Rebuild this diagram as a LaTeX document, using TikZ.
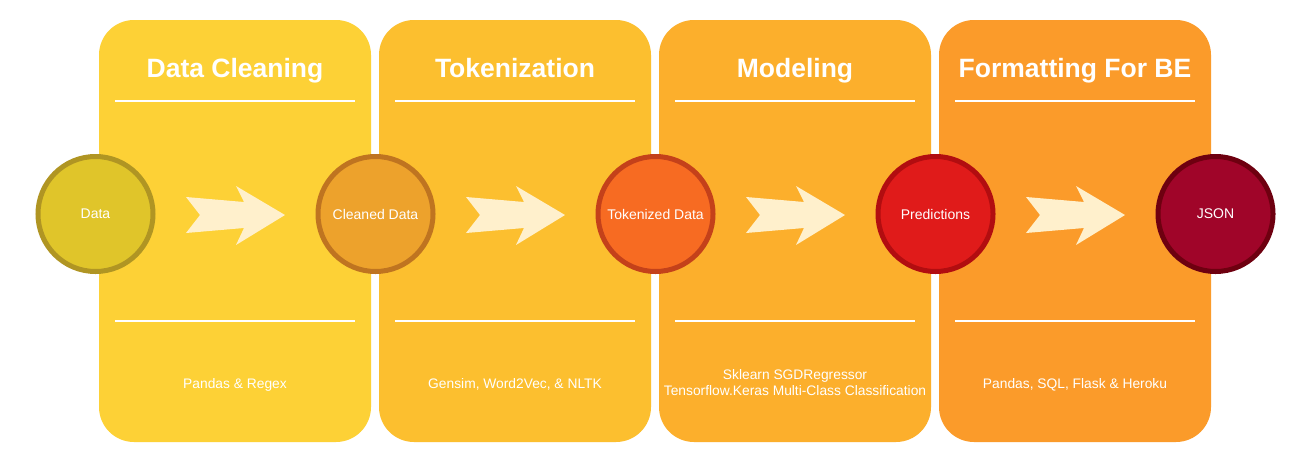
\documentclass[tikz,border=0pt]{standalone}
\usepackage{fontspec}
\setmainfont{Liberation Sans}
\begin{document}
\begin{tikzpicture}[x=1pt,y=-1pt,
  panel/.style={rounded corners=35pt, draw=none},
  sep/.style={draw=white, line width=2pt},
  titletext/.style={text=white, font=\fontsize{26.5}{30}\selectfont\bfseries, anchor=base, inner sep=0pt},
  tooltext/.style={text=white, font=\fontsize{13.8}{16}\selectfont, anchor=base, align=center, inner sep=0pt},
  stage/.style={circle, minimum size=115pt, line width=5pt, text=white, font=\fontsize{14}{16}\selectfont, inner sep=0pt},
  flowarrow/.style={fill=arrowfill, draw=none}
]
\definecolor{pA}{HTML}{FDD136}
\definecolor{pB}{HTML}{FCBF2F}
\definecolor{pC}{HTML}{FCAF2C}
\definecolor{pD}{HTML}{FB9B2A}
\definecolor{arrowfill}{HTML}{FFF0CC}
\definecolor{cAf}{HTML}{E0C52A}\definecolor{cAd}{HTML}{B09523}
\definecolor{cBf}{HTML}{EDA22C}\definecolor{cBd}{HTML}{BF7420}
\definecolor{cCf}{HTML}{F76B22}\definecolor{cCd}{HTML}{C4411A}
\definecolor{cDf}{HTML}{E01B1A}\definecolor{cDd}{HTML}{B20D10}
\definecolor{cEf}{HTML}{A00529}\definecolor{cEd}{HTML}{6E0010}
\useasboundingbox[fill=white] (0,0) rectangle (1316,469);

% panels
\foreach \i/\c/\t/\b/\y in {0/pA/{Data Cleaning}/{Pandas \& Regex}/388,
                         1/pB/{Tokenization}/{Gensim, Word2Vec, \& NLTK}/388,
                         2/pC/{Modeling}/{Sklearn SGDRegressor\\Tensorflow.Keras Multi-Class Classification}/395,
                         3/pD/{Formatting For BE}/{Pandas, SQL, Flask \& Heroku}/388}{
  \pgfmathsetmacro{\L}{99+280*\i}
  \fill[panel, fill=\c] (\L,20) rectangle ++(272,422);
  \node[titletext] (title\i) at (\L+136,77) {\t};
  \draw[sep] (\L+16,101) -- ++(240,0);
  \draw[sep] (\L+16,321) -- ++(240,0);
  \node[tooltext] (tool\i) at (\L+136,\y) {\b};
  % arrow
  \pgfmathsetmacro{\A}{\L+87}
  \fill[flowarrow] (\A,197) -- (\A+58,202) -- (\A+50,186) -- (\A+99,215) -- (\A+50,245) -- (\A+58,228) -- (\A,233) -- (\A+14,215) -- cycle;
}

% stages
\node[stage, fill=cAf, draw=cAd] (s0) at (95.5,214) {Data};
\node[stage, fill=cBf, draw=cBd] (s1) at (375.5,214) {Cleaned Data};
\node[stage, fill=cCf, draw=cCd] (s2) at (655.5,214) {Tokenized Data};
\node[stage, fill=cDf, draw=cDd] (s3) at (935.5,214) {Predictions};
\node[stage, fill=cEf, draw=cEd] (s4) at (1215.5,214) {JSON};
\end{tikzpicture}
\end{document}
